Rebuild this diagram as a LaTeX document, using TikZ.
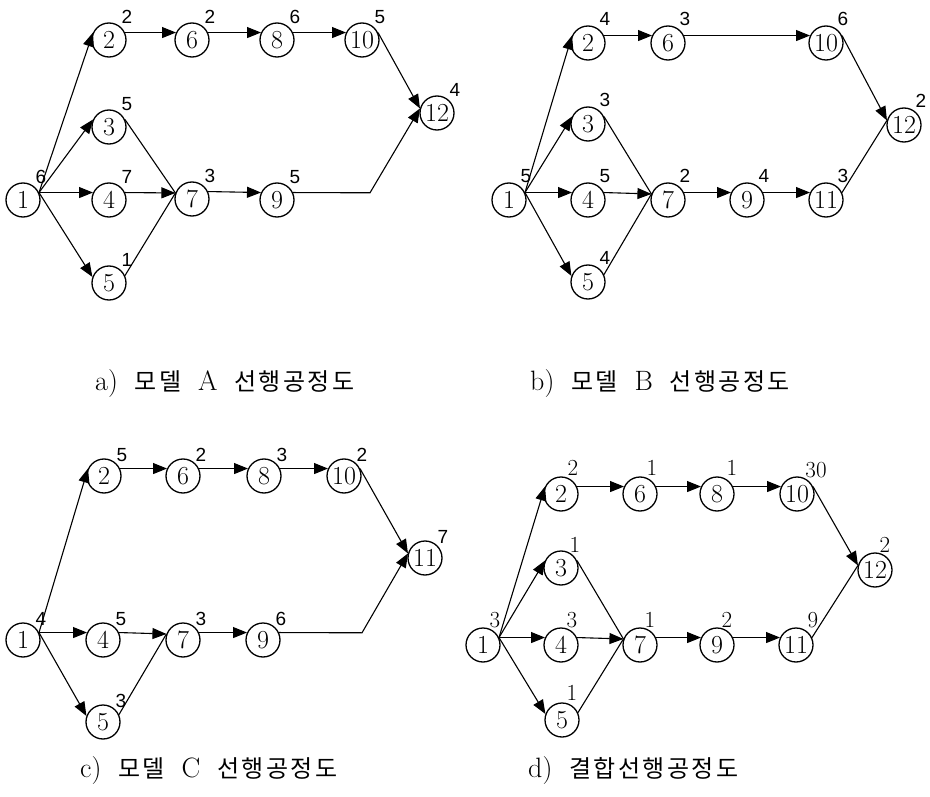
\documentclass[tikz,border=0pt]{standalone}
\usepackage{fontspec}
\newfontfamily\cjk[LetterSpace=10]{Noto Sans CJK KR}
\newfontfamily\lblsans{Liberation Sans}
\usetikzlibrary{arrows.meta}
\tikzset{
  circ/.style={circle,draw,line width=1.3pt,minimum size=34pt,inner sep=0pt,font=\fontsize{26}{26}\selectfont},
  lbla/.style={font=\lblsans\fontsize{19}{19}\selectfont,inner sep=0pt},
  lbld/.style={font=\fontsize{23}{23}\selectfont,inner sep=0pt},
  arr/.style={line width=1.1pt,-{Triangle[length=14pt,width=11pt]}},
  ln/.style={line width=1.1pt},
  captxt/.style={anchor=west,inner sep=0pt,font=\fontsize{28}{28}\selectfont}
}
\newcommand\nd[5]{\node[circ] (#1) at (#2,#3) {#4}; \node[lbla] (#1l) at (#2+\dx,#3-\dy) {#5};}
\newcommand\ndd[6]{\node[circ] (#1) at (#2,#3) {#4}; \node[lbld] (#1l) at #5 {#6};}
\newcommand\hg[1]{{\fontsize{24}{24}\selectfont\cjk #1}}
\begin{document}
\begin{tikzpicture}[x=1pt,y=-1pt]
\fill[white] (0,0) rectangle (930,797);
\useasboundingbox (0,0) rectangle (930,797);

% ---------- panel a ----------
\def\dx{18}\def\dy{23}
\nd{a1}{23}{200}{1}{6}
\nd{a2}{109}{40}{2}{2}
\nd{a6}{192}{40}{6}{2}
\nd{a8}{277}{40}{8}{6}
\nd{a10}{362}{40}{10}{5}
\nd{a12}{437}{113}{12}{4}
\nd{a3}{109}{127}{3}{5}
\nd{a4}{109}{200}{4}{7}
\nd{a7}{192}{199}{7}{3}
\nd{a9}{277}{200}{9}{5}
\nd{a5}{109}{283}{5}{1}
\coordinate (ak) at (370,192.8);
\draw[arr] (a1.25) -- (a2.155);
\draw[arr] (a1.25) -- (a3.155);
\draw[arr] (a1.25) -- (a4.155);
\draw[arr] (a1.25) -- (a5.160);
\draw[arr] (a2.25) -- (a6.155);
\draw[arr] (a6.25) -- (a8.155);
\draw[arr] (a8.25) -- (a10.155);
\draw[arr] (a10.25) -- (a12.165);
\draw[ln] (a3.25) -- (a7.160);
\draw[arr] (a4.25) -- (a7.160);
\draw[ln] (a5.25) -- (a7.160);
\draw[arr] (a7.25) -- (a9.155);
\draw[arr] (a9.25) -- (ak) -- (a12.165);

% ---------- panel b ----------
\def\dx{17}\def\dy{24}
\nd{b1}{509}{200}{1}{5}
\nd{b2}{588}{43}{2}{4}
\nd{b6}{668}{43}{6}{3}
\nd{b10}{826}{43}{10}{6}
\nd{b12}{904}{125}{12}{2}
\nd{b3}{588}{124}{3}{3}
\nd{b4}{588}{200}{4}{5}
\nd{b7}{668}{200}{7}{2}
\nd{b9}{747}{200}{9}{4}
\nd{b11}{826}{200}{11}{3}
\nd{b5}{588}{282}{5}{4}
\draw[arr] (b1.25) -- (b2.155);
\draw[arr] (b1.25) -- (b3.155);
\draw[arr] (b1.25) -- (b4.155);
\draw[arr] (b1.25) -- (b5.160);
\draw[arr] (b2.25) -- (b6.155);
\draw[arr] (b6.25) -- (b10.155);
\draw[arr] (b10.25) -- (b12.165);
\draw[ln] (b3.25) -- (b7.160);
\draw[arr] (b4.25) -- (b7.160);
\draw[ln] (b5.25) -- (b7.160);
\draw[arr] (b7.25) -- (b9.155);
\draw[arr] (b9.25) -- (b11.155);
\draw[ln] (b11.25) -- (b12.165);

% ---------- panel c ----------
\def\dx{18}\def\dy{21}
\nd{c1}{23}{640}{1}{4}
\nd{c2}{104}{476}{2}{5}
\nd{c6}{183}{476}{6}{2}
\nd{c8}{264}{476}{8}{3}
\nd{c10}{344}{476}{10}{2}
\nd{c11}{425}{558}{11}{7}
\nd{c4}{103}{640}{4}{5}
\nd{c7}{183}{640}{7}{3}
\nd{c9}{263}{640}{9}{6}
\nd{c5}{103}{722}{5}{3}
\coordinate (ck) at (362,632.8);
\draw[arr] (c1.25) -- (c2.155);
\draw[arr] (c1.25) -- (c4.155);
\draw[arr] (c1.25) -- (c5.160);
\draw[arr] (c2.25) -- (c6.155);
\draw[arr] (c6.25) -- (c8.155);
\draw[arr] (c8.25) -- (c10.155);
\draw[arr] (c10.25) -- (c11.165);
\draw[arr] (c4.25) -- (c7.160);
\draw[ln] (c5.25) -- (c7.160);
\draw[arr] (c7.25) -- (c9.155);
\draw[arr] (c9.25) -- (ck) -- (c11.165);

% ---------- panel d ----------
\ndd{d1}{483}{645}{1}{(495,620)}{3}
\ndd{d2}{561}{494}{2}{(573,468)}{2}
\ndd{d6}{640}{494}{6}{(652,468)}{1}
\ndd{d8}{717}{494}{8}{(732,468)}{1}
\ndd{d10}{797}{494}{10}{(816,470)}{30}
\ndd{d12}{875}{570}{12}{(885,545)}{2}
\ndd{d3}{561}{568}{3}{(575,545)}{1}
\ndd{d4}{561}{645}{4}{(572,620)}{3}
\ndd{d7}{640}{645}{7}{(650,620)}{1}
\ndd{d9}{717}{645}{9}{(727,620)}{2}
\ndd{d11}{796}{645}{11}{(813,620)}{9}
\ndd{d5}{562}{720}{5}{(572,693)}{1}
\draw[arr] (d1.25) -- (d2.155);
\draw[arr] (d1.25) -- (d3.155);
\draw[arr] (d1.25) -- (d4.155);
\draw[arr] (d1.25) -- (d5.160);
\draw[arr] (d2.25) -- (d6.155);
\draw[arr] (d6.25) -- (d8.155);
\draw[arr] (d8.25) -- (d10.155);
\draw[arr] (d10.25) -- (d12.165);
\draw[ln] (d3.25) -- (d7.160);
\draw[arr] (d4.25) -- (d7.160);
\draw[ln] (d5.25) -- (d7.160);
\draw[arr] (d7.25) -- (d9.155);
\draw[arr] (d9.25) -- (d11.155);
\draw[ln] (d11.25) -- (d12.165);

% ---------- captions ----------
\node[captxt] (capa) at (95,384) {a)\hspace{0.6em}\hg{모델}\hspace{0.6em}A\hspace{0.6em}\hg{선행공정도}};
\node[captxt] (capb) at (530,384) {b)\hspace{0.6em}\hg{모델}\hspace{0.6em}B\hspace{0.6em}\hg{선행공정도}};
\node[captxt] (capc) at (80,771) {c)\hspace{0.6em}\hg{모델}\hspace{0.6em}C\hspace{0.6em}\hg{선행공정도}};
\node[captxt] (capd) at (528,771) {d)\hspace{0.6em}\hg{결합선행공정도}};
\end{tikzpicture}
\end{document}
